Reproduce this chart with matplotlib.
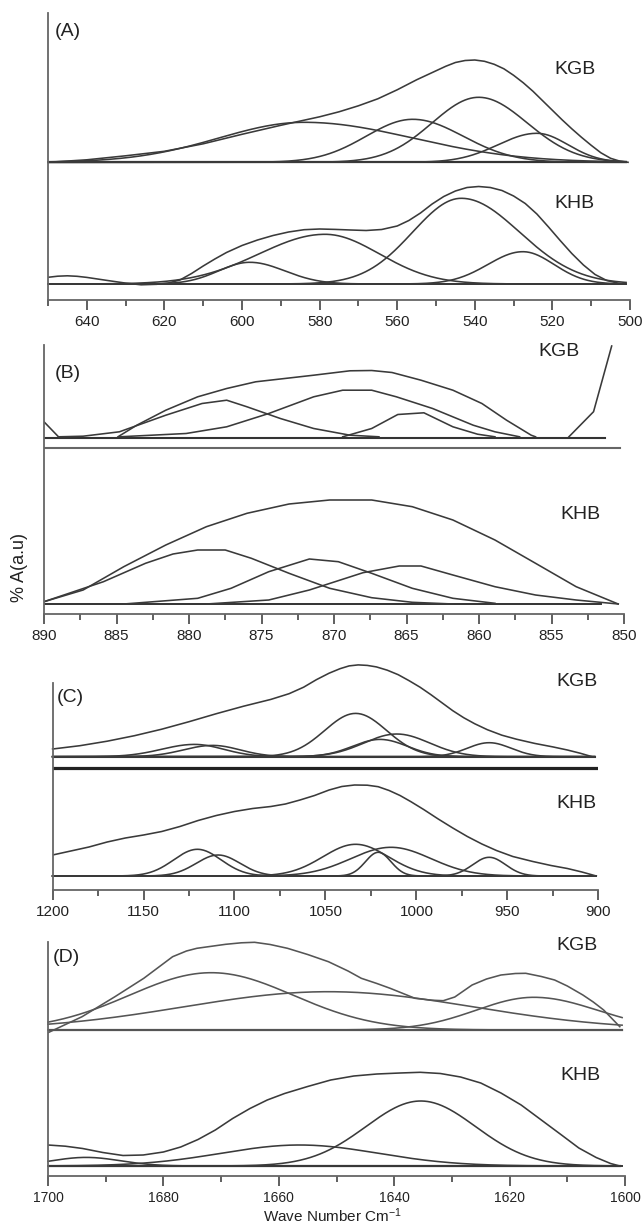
import numpy as np
import matplotlib.pyplot as plt
from matplotlib.ticker import MultipleLocator

plt.rcParams['font.family'] = ['Liberation Sans', 'DejaVu Sans']
plt.rcParams['mathtext.default'] = 'regular'

W, H = 644, 1224
LINE = '#3a3a3a'

# ---------------- data (wave number in cm-1, absorbance above baseline, a.u.) ----------------
# Panel A, 650-500 cm-1
a_kgb_env_wn = [650, 640, 630, 620, 610, 600, 590, 580, 575, 570, 565, 560, 555, 550, 547.5,
                545, 542.5, 540, 537.5, 535, 532.5, 530, 527.5, 525, 522.5, 520, 517.5, 515,
                512.5, 510, 507.5, 505, 502.5, 500.5]
a_kgb_env = [0, 2.5, 6.5, 11, 18.5, 28, 37, 45.5, 50.5, 56.5, 63.5, 72.5, 82.5, 91.5, 96,
             99.8, 101.8, 102.3, 101, 98, 93.5, 87, 79.5, 71, 61.5, 52, 42.5, 33.5,
             25, 17, 9.5, 4, 1, 0]
a_kgb_band_pos = [584, 556, 539, 524]
a_kgb_band_h = [40, 43, 65, 29]
a_kgb_band_whi = [22, 12, 12, 10]
a_kgb_band_wlo = [28, 13, 12.5, 8]

a_khb_env_wn = [650, 647.5, 645, 642.5, 640, 635, 630, 626, 622, 619, 616, 613, 610, 607, 604,
                600, 596, 592, 588, 584, 580, 576, 572, 568, 564, 560, 557, 554, 551, 548,
                545, 542, 539, 536, 533, 530, 527, 524, 521, 518, 515, 512, 509, 506, 503, 501]
a_khb_env = [6.7, 7.8, 8.2, 7.7, 6.6, 3.7, 0.9, -0.8, -0.3, 1, 4, 10.5, 18, 25, 31.5,
             38.5, 44, 48.5, 52, 54.3, 55, 54.6, 54, 53.5, 54.5, 58, 63.5, 71, 80, 87.5,
             93, 96.5, 97.5, 96.5, 93.5, 88, 80.5, 70, 57, 43.5, 30.5, 19, 9.5, 3.5, 0.8, 0]
a_khb_band_pos = [598, 578.6, 543.5, 527.6]
a_khb_band_h = [21.7, 49.7, 85.7, 32.3]
a_khb_band_whi = [8, 17, 12.5, 9]
a_khb_band_wlo = [9, 14, 15, 8]

# Panel B, 890-850 cm-1 (drawn as point traces)
b_kgb_env_wn = [884.9, 883.6, 881.6, 879.4, 877.4, 875.4, 871.4, 868.9, 867.4, 866, 864,
                861.8, 859.8, 858.1, 856.4, 856.1]
b_kgb_env = [0.7, 12.3, 27.3, 40.7, 49, 55.7, 62.3, 66.7, 67, 65, 57.3, 47.3, 34, 17.3, 2.3, 0.7]
b_kgb_bands_wn = [[889, 887.3, 884.8, 881.6, 879.1, 877.4, 876, 873.7, 871.4, 868.9, 866.9],
                  [884.8, 880.2, 877.4, 874.5, 871.4, 869.4, 867.4, 865.7, 863.2, 860.4, 858.9, 857.2],
                  [869.4, 867.4, 865.6, 863.8, 861.8, 860.1, 858.9]]
b_kgb_bands = [[0.7, 1.3, 5.7, 22.3, 34, 37.3, 30.7, 19, 9, 2.3, 0.7],
               [0.7, 4, 10.7, 24, 40.7, 47.3, 47.3, 40.7, 29, 12.3, 5.7, 0.7],
               [0.7, 9, 23, 24.7, 10.7, 3.3, 0.7]]
b_kgb_edge_wn = [890, 889]
b_kgb_edge = [15.7, 0.7]
b_kgb_rise_wn = [853.8, 852.1, 850.85]
b_kgb_rise = [0.7, 25.8, 91.5]

b_khb_env_wn = [890, 887.3, 884.5, 881.6, 878.8, 876, 873.1, 870.3, 867.4, 864.6, 861.8,
                858.9, 856.1, 853.3, 850.4]
b_khb_env = [2.3, 14, 37.3, 59, 77.3, 90.7, 100, 104, 104, 97.3, 84, 64, 40.7, 17.3, 0]
b_khb_bands_wn = [[890, 885.9, 883, 881.1, 879.4, 877.5, 875.7, 873.1, 870.3, 867.4, 864.6, 861.8],
                  [884.5, 879.4, 877.1, 874.5, 871.7, 869.7, 867.4, 864.6, 861.8, 858.9],
                  [878.8, 874.5, 871.7, 868, 865.5, 864, 861.8, 858.9, 856.1, 853.3, 850.4]]
b_khb_bands = [[2.3, 22.3, 40.7, 50, 54, 54, 45.7, 30.7, 15.7, 6.3, 1.7, 0],
               [0, 5.7, 15.7, 32.3, 45, 42.3, 30.7, 15.7, 5.7, 0.7],
               [0, 4, 14, 31.3, 38, 38, 29, 17.3, 9, 4, 0]]

# Panel C, 1200-900 cm-1
c_kgb_env_wn = [1200, 1185, 1170, 1155, 1140, 1125, 1110, 1095, 1080, 1070, 1062, 1055, 1048,
                1042, 1037, 1032, 1027, 1022, 1016, 1010, 1004, 998, 992, 986, 980, 974, 968,
                961, 953, 945, 935, 925, 917, 910, 903.4]
c_kgb_env = [7.7, 11, 15.5, 21, 27.5, 35, 43, 50.5, 57.3, 63, 69.5, 77, 83.5,
             88, 90.8, 91.8, 91.3, 89.8, 86.5, 82, 76, 69.5, 62, 54, 46, 39, 33,
             27, 21.5, 17.5, 13.3, 9.8, 6.7, 3.5, 0]
c_kgb_band_pos = [1122, 1112, 1033.4, 1020, 1010.8, 960]
c_kgb_band_h = [12.3, 11.3, 43.3, 17.3, 22.7, 14]
c_kgb_band_whi = [18, 16, 17, 15, 18, 12]
c_kgb_band_wlo = [16, 15, 17, 15, 18, 12]

c_khb_env_wn = [1200, 1190, 1180, 1170, 1160, 1150, 1140, 1130, 1120, 1110, 1100, 1090, 1080,
                1072, 1064, 1056, 1048, 1041, 1034, 1027, 1021, 1015, 1009, 1003, 996, 988,
                980, 972, 964, 956, 947, 936, 926, 917, 909, 901.1]
c_khb_env = [21, 25, 29, 34, 38, 41, 44.5, 49.5, 55.5, 60.5, 64.5, 67.5, 69.5,
             72, 76, 80.5, 86, 89.5, 91, 90.8, 89.3, 85.5, 80.5, 74.3, 66.5, 57,
             48, 39.5, 32, 25.5, 19.5, 14.5, 10.5, 7.5, 4, 0]
c_khb_band_pos = [1120.4, 1109, 1033.4, 1021, 1014, 960]
c_khb_band_h = [26.7, 21, 31.7, 23.7, 28.7, 18.7]
c_khb_band_whi = [13, 12, 18, 7, 22, 9]
c_khb_band_wlo = [13, 12, 18, 7, 22, 9]

# Panel D, 1700-1600 cm-1
d_kgb_env_wn = [1700, 1694.1, 1688.4, 1683.4, 1678.4, 1676, 1674.2, 1669.2, 1666.5, 1664.2,
                1661.5, 1658.5, 1655, 1651.4, 1648, 1645.7, 1643, 1640.7, 1636.4, 1633.5,
                1631.5, 1629.5, 1626.5, 1624, 1621.5, 1619, 1617.2, 1614.5, 1612.2, 1610,
                1607.3, 1605.5, 1603.7, 1600.9]
d_kgb_env = [-2.7, 13.3, 33.3, 51.7, 73.3, 79, 81.7, 85.7, 87.2, 87.7,
             85.5, 81.7, 75.5, 68.3, 59, 51.7, 46.5, 41.7, 31.7, 29.8,
             29.3, 33, 45, 51, 55, 56.5, 56.7, 53.5, 50, 44,
             35, 28, 20, 3.3]
d_kgb_band_pos = [1671.7, 1651.4, 1615.8]
d_kgb_band_h = [57.3, 38.3, 32.7]
d_kgb_band_whi = [14.2, 25, 10]
d_kgb_band_wlo = [14.2, 25, 11]

d_khb_env_wn = [1700, 1697, 1694, 1690.5, 1687, 1683.5, 1680, 1677, 1674, 1671, 1668, 1665,
                1662, 1659, 1655, 1651, 1647, 1643, 1639, 1635.5, 1632, 1628.5, 1625, 1621.5,
                1618, 1614.5, 1611, 1608, 1605, 1602.5, 1600.9]
d_khb_env = [21, 19.8, 17.5, 13.5, 10.5, 11, 14, 19, 26.5, 36, 47.5, 57.5,
             66, 72.5, 79.5, 86, 90, 92, 93, 93.7, 92.5, 89, 83, 73,
             61, 46, 31, 18, 8.5, 2.5, 0]
d_khb_band_pos = [1635.4, 1656.4, 1693.4]
d_khb_band_h = [65, 21, 8.6]
d_khb_band_whi = [9.5, 13.6, 6]
d_khb_band_wlo = [9.5, 13.6, 6]


def band(x, pos, h, whi, wlo):
    w = np.where(x >= pos, whi, wlo)
    return h * np.exp(-(x - pos) ** 2 / (2 * w ** 2))


fig = plt.figure(figsize=(W / 100, H / 100), dpi=100)


def make_axes(left, right, top, bottom, wn_left, wn_right, spine_top):
    ax = fig.add_axes([left / W, 1 - bottom / H, (right - left) / W, (bottom - top) / H])
    ax.set_xlim(wn_left, wn_right)
    ax.set_ylim(0, bottom - top)
    for s in ['top', 'right']:
        ax.spines[s].set_visible(False)
    for s in ['left', 'bottom']:
        ax.spines[s].set_color('#666666')
        ax.spines[s].set_linewidth(1.3)
    ax.spines['left'].set_bounds(0, bottom - spine_top)
    ax.set_yticks([])
    ax.tick_params(axis='x', direction='out', length=7, width=1.2, color='#444444',
                   labelsize=11, labelcolor='#222222', pad=4)
    ax.tick_params(axis='x', which='minor', direction='out', length=4, width=1.2, color='#444444')
    ax.patch.set_alpha(0)
    return ax


def draw_bands(ax, x, off, pos, h, whi, wlo, color=LINE):
    for p, hh, a, b in zip(pos, h, whi, wlo):
        ax.plot(x, off + band(x, p, hh, a, b), color=color, lw=1.15, clip_on=False)


def ftext(x, y, s, size=14, **kw):
    fig.text(x / W, 1 - y / H, s, fontsize=size, color='#222222', va='center', **kw)


# ---- Panel A ----
ax = make_axes(48, 630, 5, 300, 650, 500, 13)
ax.set_xticks(np.arange(640, 499, -20))
ax.xaxis.set_minor_locator(MultipleLocator(10))
x = np.linspace(650, 501, 600)
off1, off2 = 137.7, 16
ax.plot([650, 501], [off1, off1], color='#333333', lw=1.6)
ax.plot([650, 501], [off2, off2], color='#333333', lw=1.4)
draw_bands(ax, x, off1, a_kgb_band_pos, a_kgb_band_h, a_kgb_band_whi, a_kgb_band_wlo)
draw_bands(ax, x, off2, a_khb_band_pos, a_khb_band_h, a_khb_band_whi, a_khb_band_wlo)
ax.plot(a_kgb_env_wn, np.array(a_kgb_env) + off1, color=LINE, lw=1.15)
ax.plot(a_khb_env_wn, np.array(a_khb_env) + off2, color=LINE, lw=1.15)
ftext(55, 32, '(A)')
ftext(554, 69, 'KGB')
ftext(554, 204, 'KHB')

# ---- Panel B ----
ax = make_axes(44, 624, 340, 614, 890, 850, 345)
ax.set_xticks(np.arange(890, 849, -5))
ax.xaxis.set_minor_locator(MultipleLocator(2.5))
off1, sep, off2 = 176.5, 165.7, 10
ax.plot([890, 851.3], [off1, off1], color='#333333', lw=1.5)
ax.plot([890, 850.3], [sep, sep], color='#666666', lw=1.5)
ax.plot([890, 851.6], [off2, off2], color='#333333', lw=1.4)
ax.plot(b_kgb_env_wn, np.array(b_kgb_env) + off1, color=LINE, lw=1.15)
for bw, bh in zip(b_kgb_bands_wn, b_kgb_bands):
    ax.plot(bw, np.array(bh) + off1, color=LINE, lw=1.15)
ax.plot(b_kgb_edge_wn, np.array(b_kgb_edge) + off1, color=LINE, lw=1.15)
ax.plot(b_kgb_rise_wn, np.array(b_kgb_rise) + off1, color=LINE, lw=1.15, clip_on=False)
ax.plot(b_khb_env_wn, np.array(b_khb_env) + off2, color=LINE, lw=1.15)
for bw, bh in zip(b_khb_bands_wn, b_khb_bands):
    ax.plot(bw, np.array(bh) + off2, color=LINE, lw=1.15)
ftext(55, 374, '(B)')
ftext(538, 352, 'KGB')
ftext(560, 514, 'KHB')

# ---- Panel C ----
ax = make_axes(52.6, 598.3, 655, 890, 1200, 900, 683)
ax.set_xticks(np.arange(1200, 899, -50))
ax.xaxis.set_minor_locator(MultipleLocator(25))
x = np.linspace(1200, 902, 600)
off1, sep, off2 = 133.3, 121.7, 14
ax.plot([1200, 902], [off1, off1], color='#333333', lw=1.5)
ax.plot([1200, 901], [sep, sep], color='#222222', lw=2.3)
ax.plot([1200, 901], [off2, off2], color='#333333', lw=1.4)
draw_bands(ax, x, off1, c_kgb_band_pos, c_kgb_band_h, c_kgb_band_whi, c_kgb_band_wlo)
draw_bands(ax, x, off2, c_khb_band_pos, c_khb_band_h, c_khb_band_whi, c_khb_band_wlo)
ax.plot(c_kgb_env_wn, np.array(c_kgb_env) + off1, color=LINE, lw=1.15, clip_on=False)
ax.plot(c_khb_env_wn, np.array(c_khb_env) + off2, color=LINE, lw=1.15)
ftext(57, 698, '(C)')
ftext(556, 682, 'KGB')
ftext(556, 803, 'KHB')

# ---- Panel D ----
ax = make_axes(48, 625, 930, 1176, 1700, 1600, 942)
ax.set_xticks(np.arange(1700, 1599, -20))
ax.xaxis.set_minor_locator(MultipleLocator(10))
ax.tick_params(axis='x', labelsize=10)
x = np.linspace(1700, 1600.5, 600)
off1, off2 = 146, 10
ax.plot([1700, 1600.6], [off1, off1], color='#555555', lw=1.6)
ax.plot([1700, 1600.8], [off2, off2], color='#333333', lw=1.6)
draw_bands(ax, x, off1, d_kgb_band_pos, d_kgb_band_h, d_kgb_band_whi, d_kgb_band_wlo, color='#555555')
draw_bands(ax, x, off2, d_khb_band_pos, d_khb_band_h, d_khb_band_whi, d_khb_band_wlo)
ax.plot(d_kgb_env_wn, np.array(d_kgb_env) + off1, color='#555555', lw=1.15)
ax.plot(d_khb_env_wn, np.array(d_khb_env) + off2, color=LINE, lw=1.15)
ftext(53, 957, '(D)')
ftext(556, 946, 'KGB')
ftext(560, 1076, 'KHB')

# axis titles
fig.text(20 / W, 1 - 568 / H, '% A(a.u)', rotation=90, fontsize=13, color='#222222',
         ha='center', va='center')
fig.text(333 / W, 1 - 1216 / H, 'Wave Number Cm$^{-1}$', fontsize=11, color='#222222',
         ha='center', va='center')

fig.savefig('out.png', dpi=100, facecolor='white')
